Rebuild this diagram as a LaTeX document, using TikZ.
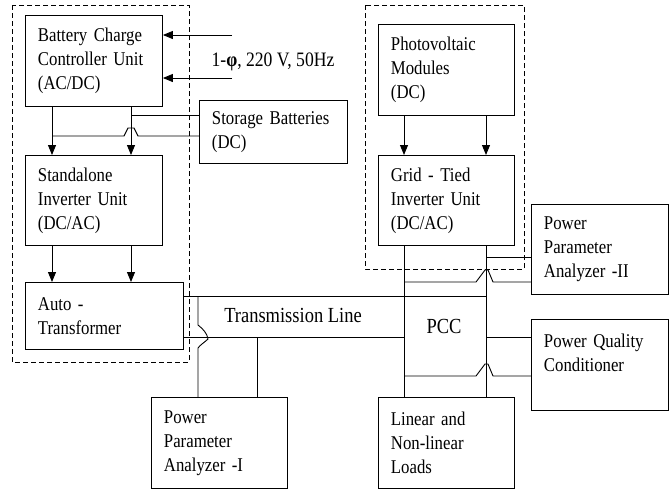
\documentclass[tikz,border=0pt]{standalone}
\usepackage{fontspec}
\setmainfont{Liberation Serif}[FakeStretch=0.86]
\usetikzlibrary{arrows.meta}

\begin{document}
\begin{tikzpicture}[x=1pt, y=-1pt, line width=0.9pt,
  font=\fontsize{19.5}{24}\selectfont,
  arr/.style={-{Triangle[length=10pt, width=8pt]}},
  blk/.style={draw, anchor=north west, align=left, inner xsep=12.5pt, inner ysep=0pt},
  lbl/.style={font=\fontsize{21.5}{24}\selectfont},
  grp/.style={dash pattern=on 5pt off 3pt, line width=0.8pt}]

  \useasboundingbox (0,0) rectangle (672,490);

  % Dashed groups
  \draw[grp] (12,5) rectangle (189,362);
  \draw[grp] (365,5) rectangle (524,269);

  % ---- Standalone side ----
  \node[blk, text width=112pt, minimum height=91pt] (bcc) at (25,15)
    {Battery Charge\\Controller Unit\\(AC/DC)};
  \node[blk, text width=112pt, minimum height=90pt] (sinv) at (25,155)
    {Standalone\\Inverter Unit\\(DC/AC)};
  \node[blk, text width=133pt, minimum height=67pt] (atr) at (25,282)
    {Auto -\\Transformer};
  \node[blk, text width=123pt, minimum height=63pt] (stor) at (199,100)
    {Storage Batteries\\(DC)};
  \node[font=\fontsize{20.5}{24}\selectfont] (src) at (273,62) {1-\textbf{φ}, 220 V, 50Hz};

  \coordinate (in1) at (232,35);
  \coordinate (in2) at (232,78);
  \draw[arr] (in1) -- (in1 -| bcc.east);
  \draw[arr] (in2) -- (in2 -| bcc.east);

  \coordinate (colA) at (52,0);
  \coordinate (colB) at (131,0);
  \draw[arr] (bcc.south -| colA) -- (sinv.north -| colA);
  \draw[arr] (bcc.south -| colB) -- (sinv.north -| colB);
  \draw[arr] (sinv.south -| colA) -- (atr.north -| colA);
  \draw[arr] (sinv.south -| colB) -- (atr.north -| colB);

  % battery links
  \coordinate (jB) at (131,115);
  \coordinate (jA) at (52,136);
  \draw (jB) -- (jB -| stor.west);
  \draw (jA -| stor.west) -- (138,136) -- (134,128) -- (128,128) -- (124,136) -- (jA);

  % ---- Transmission line ----
  \coordinate (busL) at (404,0);
  \coordinate (busR) at (486,0);
  \coordinate (tlT) at (183,296);
  \coordinate (tlB) at (183,337);
  \draw (tlT) -- (tlT -| busR);
  \draw (tlB) -- (tlB -| busL);
  \node[lbl] (tline) at (293,315) {Transmission Line};

  \node[blk, text width=111pt, minimum height=91pt] (ppa1) at (151,397)
    {Power\\Parameter\\Analyzer -I};
  \draw (tlT -| 198,0) -- (198,325) .. controls (203,329) and (207,333) .. (208,339)
    .. controls (205,342) and (200,345) .. (198,348) -- (ppa1.north -| 198,0);
  \draw (tlB -| 257,0) -- (ppa1.north -| 257,0);

  % ---- Grid-tied side ----
  \node[blk, text width=111pt, minimum height=91pt] (pv) at (378,24)
    {Photovoltaic\\Modules\\(DC)};
  \node[blk, text width=111pt, minimum height=90pt] (gti) at (378,155)
    {Grid - Tied\\Inverter Unit\\(DC/AC)};
  \draw[arr] (pv.south -| busL) -- (gti.north -| busL);
  \draw[arr] (pv.south -| busR) -- (gti.north -| busR);

  \node[blk, text width=111pt, minimum height=91pt] (load) at (378,397)
    {Linear and\\Non-linear\\Loads};
  \draw (gti.south -| busL) -- (load.north -| busL);
  \draw (gti.south -| busR) -- (load.north -| busR);
  \node[lbl] (pcc) at (444,326) {PCC};

  \node[blk, text width=112pt, minimum height=90pt] (ppa2) at (531,204)
    {Power\\Parameter\\Analyzer -II};
  \node[blk, text width=112pt, minimum height=91pt] (pqc) at (531,319)
    {Power Quality\\Conditioner\\\mbox{}};

  \coordinate (p2a) at (486,257);
  \coordinate (p2b) at (404,282);
  \coordinate (pqa) at (486,337);
  \coordinate (pqb) at (404,376);
  \draw (p2a) -- (p2a -| ppa2.west);
  \draw (p2b) -- (476,282) -- (485,270) -- (488,270) -- (493,282) -- (p2b -| ppa2.west);
  \draw (pqa) -- (pqa -| pqc.west);
  \draw (pqb) -- (476,376) -- (485,364) -- (488,364) -- (493,376) -- (pqb -| pqc.west);

\end{tikzpicture}
\end{document}
